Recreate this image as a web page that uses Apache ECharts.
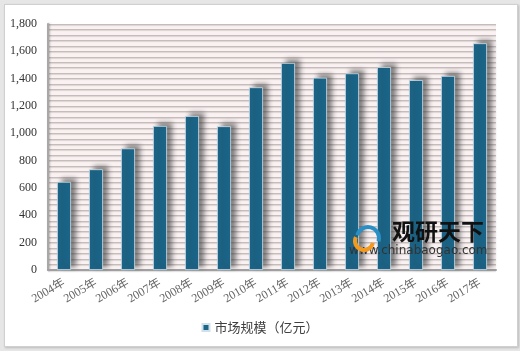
<!DOCTYPE html>
<html><head><meta charset="utf-8">
<script src="https://cdn.jsdelivr.net/npm/echarts@6/dist/echarts.min.js"></script>
<style>
html,body{margin:0;padding:0;background:#e6e6e6;}
#frame{position:absolute;left:4px;top:4px;width:512px;height:341px;background:#fff;border:1px solid #d0d0d0;box-shadow:1px 1px 2px #bbb;}
#c{position:absolute;left:0;top:0;width:520px;height:351px;}
</style></head>
<body>
<div id="frame"></div>
<div id="c"></div>
<script>
var categories = ['2004年','2005年','2006年','2007年','2008年','2009年','2010年','2011年','2012年','2013年','2014年','2015年','2016年','2017年'];
var marketSize = [645, 737, 890, 1054, 1127, 1052, 1337, 1515, 1407, 1439, 1485, 1390, 1420, 1659];
var seriesName = '市场规模（亿元）';
var yTicks = [0, 200, 400, 600, 800, 1000, 1200, 1400, 1600, 1800];

var chart = echarts.init(document.getElementById('c'));
var fontF = '"Liberation Serif","Noto Sans CJK SC",serif';
var gridLine = {color: '#c6bcbc', width: 1.2, shadowColor: 'rgba(120,110,110,0.25)', shadowBlur: 1, shadowOffsetY: 1};
chart.setOption({
  animation: false,
  backgroundColor: 'transparent',
  grid: {left: 48, right: 24, top: 24, bottom: 81, show: true, backgroundColor: '#faf2f2', borderWidth: 0},
  legend: {
    bottom: 12, left: 'center', itemWidth: 7, itemHeight: 7, icon: 'rect',
    textStyle: {fontSize: 13, color: '#404040', fontFamily: '"Noto Sans CJK SC",sans-serif'},
    data: [seriesName]
  },
  xAxis: {
    type: 'category', data: categories,
    axisLine: {show: true, lineStyle: {color: '#a0a0a0', width: 2}},
    axisTick: {show: false},
    axisLabel: {rotate: 30, fontSize: 12, color: '#666', fontFamily: fontF, margin: 12}
  },
  yAxis: {
    type: 'value', min: yTicks[0], max: yTicks[yTicks.length-1], interval: 200,
    axisLine: {show: true, lineStyle: {color: '#a8a8a8', width: 2, shadowColor: 'rgba(80,80,80,0.4)', shadowBlur: 2, shadowOffsetX: 1}},
    axisTick: {show: false},
    axisLabel: {fontSize: 12, color: '#333', fontFamily: fontF, margin: 11,
      formatter: function(v){ return v >= 1000 ? Math.floor(v/1000) + ',' + String(v%1000).padStart(3,'0') : String(v); }},
    splitLine: {show: true, lineStyle: gridLine},
    minorTick: {show: false, splitNumber: 5},
    minorSplitLine: {show: true, lineStyle: gridLine}
  },
  series: [{
    name: seriesName, type: 'bar', data: marketSize, barWidth: 14,
    itemStyle: {color: '#1b6589', borderColor: '#cfe0ea', borderWidth: 0.8,
      shadowColor: 'rgba(50,50,50,0.6)', shadowBlur: 5, shadowOffsetX: 5, shadowOffsetY: -3}
  }],
  graphic: [
    {type: 'arc', shape: {cx: 368, cy: 238, r: 11, startAngle: 3.4, endAngle: 6.6}, style: {fill: 'none', stroke: '#2a8fc4', lineWidth: 4}, z: 100},
    {type: 'arc', shape: {cx: 364, cy: 241, r: 9, startAngle: 0.2, endAngle: 3.6}, style: {fill: 'none', stroke: '#f39a1e', lineWidth: 4}, z: 101},
    {type: 'text', left: 392, top: 220, style: {text: '观研天下', fill: '#111', font: 'bold 23px "Noto Sans CJK SC"'}, z: 100},
    {type: 'text', left: 349, top: 245, style: {text: 'www.chinabaogao.com', fill: '#333', font: '12px "DejaVu Sans"'}, z: 100}
  ]
});
</script>
</body></html>
